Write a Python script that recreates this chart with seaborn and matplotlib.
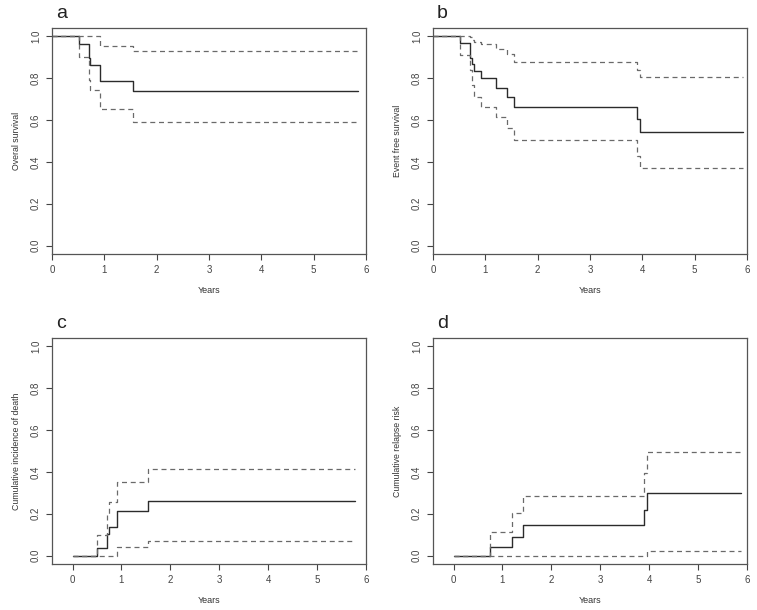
import matplotlib
matplotlib.use("Agg")
import matplotlib.pyplot as plt
import seaborn as sns
import pandas as pd

sns.set_style("ticks")
plt.rcParams['font.family'] = ['Liberation Sans', 'DejaVu Sans']

# a: overall survival
a_time = [0, 0.52, 0.70, 0.73, 0.92, 1.54]
a_end = 5.85
a_est = [1, 0.965, 0.896, 0.861, 0.786, 0.741]
a_upper = [1, 1, 1, 1, 0.954, 0.930]
a_lower = [1, 0.90, 0.79, 0.744, 0.652, 0.59]

# b: event free survival
b_time = [0, 0.51, 0.70, 0.74, 0.78, 0.91, 1.20, 1.42, 1.55, 3.90, 3.96]
b_end = 5.93
b_est = [1, 0.969, 0.899, 0.868, 0.835, 0.80, 0.755, 0.712, 0.664, 0.606, 0.542]
b_upper = [1, 1, 0.995, 0.985, 0.975, 0.963, 0.94, 0.915, 0.876, 0.84, 0.805]
b_lower = [1, 0.91, 0.84, 0.77, 0.712, 0.664, 0.616, 0.561, 0.505, 0.43, 0.369]

# c: cumulative incidence of death
c_time = [0, 0.51, 0.71, 0.74, 0.91, 1.54]
c_end = 5.78
c_est = [0, 0.035, 0.104, 0.139, 0.215, 0.26]
c_upper = [0, 0.10, 0.20, 0.257, 0.351, 0.412]
c_lower = [0, 0, 0, 0, 0.043, 0.072]

# d: cumulative relapse risk
d_time = [0, 0.75, 1.19, 1.41, 3.89, 3.95]
d_end = 5.87
d_est = [0, 0.039, 0.09, 0.144, 0.22, 0.30]
d_upper = [0, 0.114, 0.204, 0.284, 0.396, 0.497]
d_lower = [0, 0, 0, 0, 0, 0.024]

panels = [
    ("a", "Overal survival", a_time, a_end, a_est, a_upper, a_lower, (0, 6)),
    ("b", "Event free survival", b_time, b_end, b_est, b_upper, b_lower, (0, 6)),
    ("c", "Cumulative incidence of death", c_time, c_end, c_est, c_upper, c_lower, (-0.42, 6)),
    ("d", "Cumulative relapse risk", d_time, d_end, d_est, d_upper, d_lower, (-0.42, 6)),
]

W, H = 757, 610
boxes = [(52, 28), (433, 28), (52, 338), (433, 338)]
bw, bh = 314, 226

fig = plt.figure(figsize=(W / 100, H / 100), dpi=100)

for (letter, ylab, t, tend, est, up, lo, xlim), (x0, y0) in zip(panels, boxes):
    ax = fig.add_axes([x0 / W, (H - y0 - bh) / H, bw / W, bh / H])
    df = pd.DataFrame({
        "time": t + [tend],
        "est": est + [est[-1]],
        "upper": up + [up[-1]],
        "lower": lo + [lo[-1]],
    })
    sns.lineplot(data=df, x="time", y="est", ax=ax, drawstyle="steps-post",
                 color="#2b2b2b", linewidth=1.0, estimator=None)
    for col in ["upper", "lower"]:
        sns.lineplot(data=df, x="time", y=col, ax=ax, drawstyle="steps-post",
                     color="#6a6a6a", linewidth=0.9, dashes=False,
                     linestyle=(0, (4, 3)), estimator=None)
    ax.set_xlim(*xlim)
    ax.set_ylim(-0.04, 1.04)
    ax.set_xticks(range(0, 7))
    ax.set_yticks([0, 0.2, 0.4, 0.6, 0.8, 1.0])
    ax.set_yticklabels(["0.0", "0.2", "0.4", "0.6", "0.8", "1.0"], rotation=90, va="center")
    ax.tick_params(length=4, width=0.8, pad=4, labelsize=7, colors="#444444")
    for s in ax.spines.values():
        s.set_color("#555555")
        s.set_linewidth(0.9)
    ax.set_xlabel("Years", fontsize=6.5, color="#333333", labelpad=8)
    ax.set_ylabel(ylab, fontsize=6.3, color="#333333", labelpad=7)
    fig.text((x0 + 4) / W, 1 - (y0 - 15) / H, letter, fontsize=14, color="#222222",
             ha="left", va="center")

fig.savefig("out.png", dpi=100)
